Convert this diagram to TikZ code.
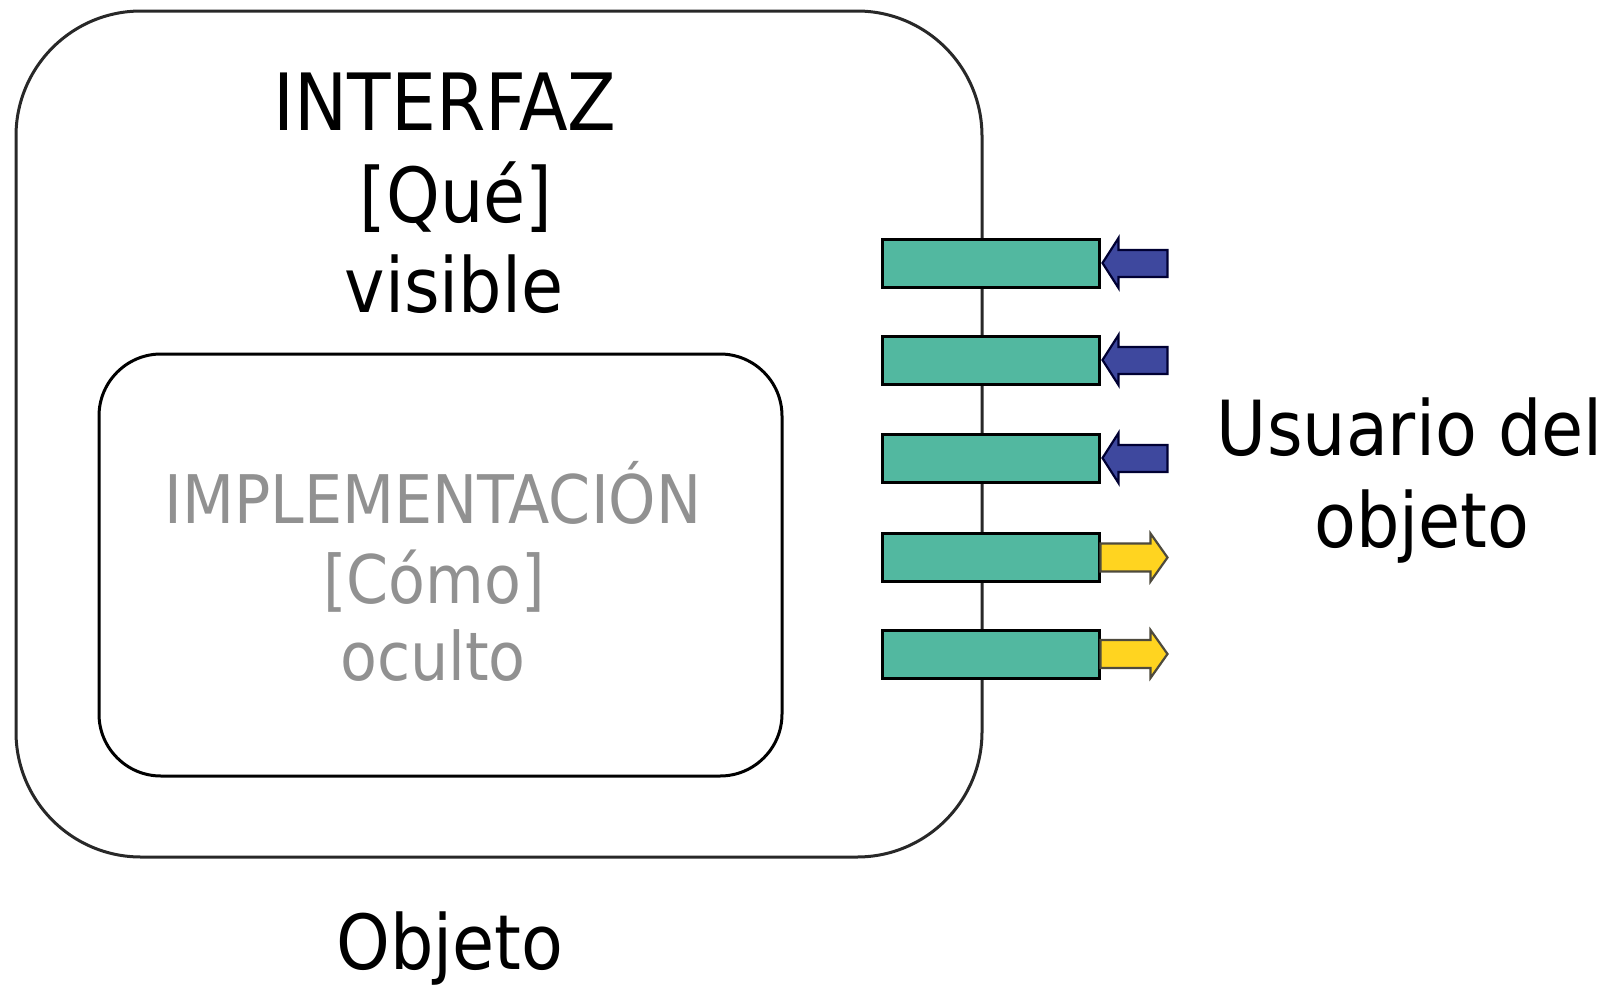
\documentclass[tikz,border=0pt]{standalone}
\usepackage{fontspec}
\setmainfont{DejaVu Sans Condensed}
\usetikzlibrary{calc}
\definecolor{barteal}{RGB}{82,184,160}
\definecolor{arrblue}{RGB}{62,72,158}
\definecolor{arryellow}{RGB}{255,212,32}
\definecolor{txtgray}{RGB}{145,145,145}
\definecolor{boxline}{RGB}{40,40,40}
\begin{document}
\begin{tikzpicture}[x=1pt,y=-1pt,
  bigtxt/.style={font=\fontsize{76}{90}\selectfont, text=black, inner sep=0pt, anchor=base},
  graytxt/.style={font=\fontsize{67}{78}\selectfont, text=txtgray, inner sep=0pt, anchor=base},
  barbox/.style={draw=black, line width=3pt, fill=barteal, minimum width=217pt, minimum height=48pt, inner sep=0pt},
  bluearrow/.style={fill=arrblue, draw=black!80!blue, line width=2.2pt, line join=miter},
  yellowarrow/.style={fill=arryellow, draw=black!80!yellow, line width=2.2pt, line join=miter}
]
\useasboundingbox (0,0) rectangle (1606,988);
\fill[white] (0,0) rectangle (1606,988);
% outer object box
\draw[boxline, line width=3pt, rounded corners=125pt] (16,11) rectangle (982,857);
% inner implementation box
\draw[black, line width=3pt, rounded corners=62pt] (99,354) rectangle (782,776);
% texts
\node[bigtxt, font=\fontsize{79}{90}\selectfont] (t1) at (445,130) {INTERFAZ};
\node[bigtxt] (t2) at (456,222) {[Qué]};
\node[bigtxt] (t3) at (454,312) {visible};
\node[graytxt] (i1) at (433,523) {IMPLEMENTACIÓN};
\node[graytxt] (i2) at (434,603) {[Cómo]};
\node[graytxt] (i3) at (433,680) {oculto};
\node[bigtxt] (obj) at (450,969) {Objeto};
\node[bigtxt] (u1) at (1410,455) {Usuario del};
\node[bigtxt] (u2) at (1422,547) {objeto};
% bars
\node[barbox] (b1) at (990.5,263) {};
\node[barbox] (b2) at (990.5,360) {};
\node[barbox] (b3) at (990.5,458) {};
\node[barbox] (b4) at (990.5,557.5) {};
\node[barbox] (b5) at (990.5,654) {};
% incoming (blue) arrows
\foreach \b in {b1,b2,b3}{
  \draw[bluearrow] ($(\b.east)+(2,0)$) -- ++(16,-25) -- ++(0,12) -- ++(49,0)
     -- ++(0,27) -- ++(-49,0) -- ++(0,11) -- cycle;
}
% outgoing (yellow) arrows
\foreach \b in {b4,b5}{
  \draw[yellowarrow] ($(\b.east)+(0,-14)$) -- ++(50,0) -- ++(0,-10) -- ++(17,24)
     -- ++(-17,24) -- ++(0,-10) -- ++(-50,0) -- cycle;
}
\end{tikzpicture}
\end{document}
